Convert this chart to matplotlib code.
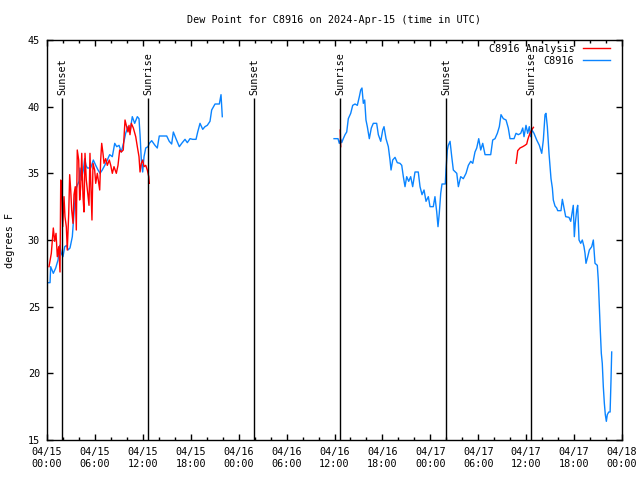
import matplotlib
matplotlib.use("Agg")
import matplotlib.pyplot as plt
import matplotlib.dates as mdates
import numpy as np
import pandas as pd

# hours since 2024-04-15 00:00 UTC, dew point in F

# C8916 observations
obs_h1 = [0.0, 0.38, 0.46, 0.79, 1.09, 1.38, 1.59, 1.79, 2.0, 2.22, 2.47, 2.63, 2.88, 3.17,
          3.38, 3.59, 3.79, 4.01, 4.13, 4.30, 4.55, 4.72, 4.88, 5.05, 5.47, 5.80, 6.10, 6.39,
          6.64, 6.92, 7.23, 7.55, 7.85, 8.18, 8.48, 8.73, 9.02, 9.30, 9.64, 9.85, 10.14, 10.39,
          10.68, 10.98, 11.31, 11.52, 11.65, 11.81, 11.98, 12.15, 12.36, 12.65, 12.81, 13.11,
          13.52, 13.81, 14.06, 14.99, 15.31, 15.61, 15.82, 16.15, 16.57, 16.87, 17.28, 17.57,
          17.91, 18.24, 18.66, 18.87, 19.16, 19.50, 19.78, 20.07, 20.41, 20.62, 21.04, 21.58,
          21.79, 21.95]
obs_v1 = [26.8, 26.8, 28.0, 27.5, 27.9, 28.5, 29.6, 29.0, 28.75, 29.5, 29.6, 29.25, 29.4, 30.25,
          32.0, 33.75, 34.1, 34.4, 35.4, 34.5, 35.25, 36.1, 35.6, 35.4, 35.4, 36.0, 35.6, 35.25,
          35.0, 35.25, 35.6, 36.0, 36.4, 36.25, 37.25, 37.0, 37.1, 36.6, 37.4, 38.0, 38.5, 38.1,
          39.25, 38.75, 39.25, 39.1, 37.9, 36.0, 35.1, 36.25, 36.9, 37.0, 37.25, 37.45,
          37.1, 36.9, 37.8, 37.8, 37.4, 37.2, 38.1, 37.6, 37.0, 37.25, 37.55, 37.3,
          37.6, 37.55, 37.55, 38.1, 38.75, 38.3, 38.5, 38.6, 38.9, 39.75, 40.2, 40.2,
          40.9, 39.25]

obs_h2 = [35.94, 36.44, 36.60, 36.78, 36.90, 37.10, 37.32, 37.53, 37.73, 38.03, 38.28, 38.57,
          38.86, 39.11, 39.28, 39.44, 39.61, 39.78, 39.94, 40.11, 40.36, 40.61, 40.86, 41.28,
          41.49, 41.79, 42.04, 42.20, 42.45, 42.74, 42.95, 43.08, 43.29, 43.58, 43.86, 44.20,
          44.42, 44.62, 44.83, 45.04, 45.29, 45.54, 45.79, 46.08, 46.49, 46.71, 46.96, 47.21,
          47.46, 47.75, 47.96, 48.37, 48.58, 48.80, 48.96, 49.12, 49.30, 49.46, 49.87, 49.96,
          50.13, 50.25, 50.47, 50.68, 50.88, 51.31, 51.51, 51.80, 52.13, 52.47, 52.76, 53.06,
          53.31, 53.59, 53.81, 54.06, 54.31, 54.56, 54.85, 55.56, 55.81, 56.10, 56.39, 56.64,
          56.85, 57.14, 57.48, 57.76, 57.98, 58.48, 58.73, 59.02, 59.32, 59.57, 59.73, 59.98,
          60.19, 60.39, 60.57, 60.73, 60.98, 61.32, 61.65, 61.95, 62.15, 62.36, 62.48, 62.65,
          62.86, 62.99, 63.11, 63.28, 63.40, 63.61, 63.82, 63.95, 64.36, 64.53, 64.74, 64.95,
          65.36, 65.58, 65.74, 65.90, 66.03, 66.15, 66.33, 66.45, 66.62, 66.83, 67.03, 67.24,
          67.37, 67.49, 67.71, 67.91, 68.21, 68.41, 68.62, 68.91, 69.03, 69.16, 69.28, 69.41,
          69.53, 69.66, 69.79, 69.91, 70.04, 70.16, 70.34, 70.51, 70.62, 70.71]
obs_v2 = [37.6, 37.6, 37.25, 37.55, 37.3, 37.6, 37.9, 38.1, 39.1, 39.5, 40.1, 40.2,
          40.1, 40.75, 41.25, 41.4, 40.25, 40.5, 39.0, 38.5, 37.6, 38.4, 38.75, 38.75,
          37.9, 37.4, 38.25, 38.5, 37.6, 37.0, 36.0, 35.25, 36.0, 36.2, 35.8, 35.75,
          35.6, 34.75, 34.0, 34.75, 34.4, 34.75, 34.0, 35.1, 35.1, 34.0, 33.4, 33.75,
          32.9, 33.25, 32.5, 32.5, 33.25, 32.1, 31.0, 32.0, 33.5, 34.2, 34.2, 35.25,
          36.75, 37.1, 37.4, 36.25, 35.25, 35.0, 34.0, 34.75, 34.6, 35.0, 35.6, 35.9,
          35.75, 36.6, 36.9, 37.6, 36.75, 37.25, 36.4, 36.4, 37.5, 37.6, 38.0, 38.5,
          39.4, 39.1, 39.0, 38.4, 37.6, 37.6, 38.0, 37.9, 38.0, 38.4, 37.75, 38.6,
          38.0, 38.5, 37.75, 38.25, 38.0, 37.5, 37.1, 36.5, 37.5, 39.4, 39.5, 38.5,
          36.5, 35.5, 34.6, 33.9, 33.0, 32.55, 32.4, 32.2, 32.2, 33.05, 32.4, 31.75,
          31.7, 31.4, 32.0, 32.6, 30.25, 31.25, 32.25, 32.6, 30.0, 29.75, 30.0, 29.5,
          29.0, 28.25, 28.75, 29.25, 29.5, 30.0, 28.25, 28.1, 27.0, 25.0, 23.25, 21.5,
          20.75, 19.0, 17.75, 16.9, 16.4, 16.9, 17.1, 17.1, 19.4, 21.6]

# C8916 analysis
ana_h1 = [0.25, 0.54, 0.79, 0.96, 1.13, 1.29, 1.47, 1.63, 1.72, 1.84, 1.97, 2.13, 2.25, 2.42,
          2.54, 2.72, 2.84, 2.97, 3.09, 3.26, 3.38, 3.54, 3.67, 3.79, 3.97, 4.09, 4.22, 4.35,
          4.51, 4.63, 4.76, 4.92, 5.10, 5.26, 5.38, 5.51, 5.63, 5.76, 5.97, 6.10, 6.30, 6.42,
          6.60, 6.72, 6.85, 7.01, 7.14, 7.35, 7.55, 7.80, 7.98, 8.18, 8.39, 8.68, 8.89, 9.10,
          9.30, 9.55, 9.77, 9.93, 10.14, 10.27, 10.39, 10.56, 10.81, 11.11, 11.31, 11.52,
          11.65, 11.81, 11.98, 12.15, 12.36, 12.56, 12.74, 12.81]
ana_v1 = [28.0, 29.0, 30.9, 29.9, 30.5, 28.75, 29.5, 27.6, 34.5, 34.0, 31.0, 33.25, 31.75, 31.0,
          29.25, 32.0, 34.9, 33.75, 32.25, 31.25, 33.4, 34.0, 30.75, 36.75, 36.0, 33.0, 34.0, 36.5,
          33.25, 32.1, 36.5, 34.5, 33.5, 32.6, 36.5, 33.75, 31.5, 35.75, 35.25, 34.25, 35.0, 34.5,
          33.75, 36.0, 37.25, 36.5, 35.75, 36.1, 35.6, 36.0, 35.6, 35.0, 35.5, 35.0, 35.6, 36.75,
          36.6, 36.75, 39.0, 38.6, 38.1, 38.6, 37.9, 38.75, 38.4, 37.75, 37.0, 36.25,
          35.1, 35.75, 36.0, 35.5, 35.6, 35.25, 34.75, 34.25]
ana_h2 = [36.72, 36.75, 36.78]
ana_v2 = [38.25, 37.5, 37.0]
ana_h3 = [58.73, 58.82, 58.94, 59.23, 59.57, 59.85, 60.07, 60.19, 60.32, 60.48, 60.69, 60.91]
ana_v3 = [35.75, 36.1, 36.7, 36.9, 37.0, 37.1, 37.2, 37.5, 37.75, 38.0, 38.25, 38.45]

# sun events (hours)
sun_h = [1.88, 12.65, 25.92, 36.69, 49.96, 60.6]
sun_lbl = ["Sunset", "Sunrise", "Sunset", "Sunrise", "Sunset", "Sunrise"]

t0 = pd.Timestamp("2024-04-15 00:00")
def to_t(h):
    return t0 + pd.to_timedelta(np.array(h), unit="h")

red = "#ff0000"
blue = "#0a84ff"
font = "DejaVu Sans Mono"
fs = 7.3

fig = plt.figure(figsize=(6.4, 4.8), dpi=100)
ax = fig.add_axes([47/640, 40/480, 575/640, 400/480])

ax.plot(to_t(ana_h1), ana_v1, color=red, lw=1, label="C8916 Analysis", zorder=3)
ax.plot(to_t(ana_h2), ana_v2, color=red, lw=1, zorder=3)
ax.plot(to_t(ana_h3), ana_v3, color=red, lw=1, zorder=3)
ax.plot(to_t(obs_h1), obs_v1, color=blue, lw=1, label="C8916", zorder=2)
ax.plot(to_t(obs_h2), obs_v2, color=blue, lw=1, zorder=2)

for h, lbl in zip(sun_h, sun_lbl):
    t = to_t([h])[0]
    ax.vlines(t, 15, 40.65, color="black", lw=1, zorder=4)
    ax.text(t, 40.85, lbl, rotation=90, ha="center", va="bottom",
            family=font, fontsize=fs)

ax.set_xlim(t0, t0 + pd.Timedelta(hours=72))
ax.set_ylim(15, 45)
ax.set_yticks(np.arange(15, 46, 5))
ax.xaxis.set_major_locator(mdates.HourLocator(byhour=[0, 6, 12, 18]))
ax.xaxis.set_minor_locator(mdates.HourLocator(interval=2))
ax.xaxis.set_major_formatter(mdates.DateFormatter("%m/%d\n%H:%M"))

ax.tick_params(which="both", direction="in", top=True, right=True, width=1,
               labelsize=fs)
ax.tick_params(which="major", length=4)
ax.tick_params(which="minor", length=2)
ax.tick_params(axis="x", pad=5)
ax.tick_params(axis="y", pad=5)
for lab in ax.get_xticklabels() + ax.get_yticklabels():
    lab.set_family(font)
for sp in ax.spines.values():
    sp.set_linewidth(1)

leg = ax.legend(loc="upper right", bbox_to_anchor=(0.979, 0.99), frameon=False,
                markerfirst=False, borderaxespad=0, borderpad=0, handlelength=2.7,
                handletextpad=0.8, labelspacing=0.15,
                prop={"family": font, "size": fs})

fig.text(334/640, 1 - 20/480, "Dew Point for C8916 on 2024-Apr-15 (time in UTC)",
         ha="center", va="center", family=font, fontsize=fs)
fig.text(10/640, 0.5, "degrees F", rotation=90, ha="center", va="center",
         family=font, fontsize=fs)

fig.savefig("out.png", dpi=100)
